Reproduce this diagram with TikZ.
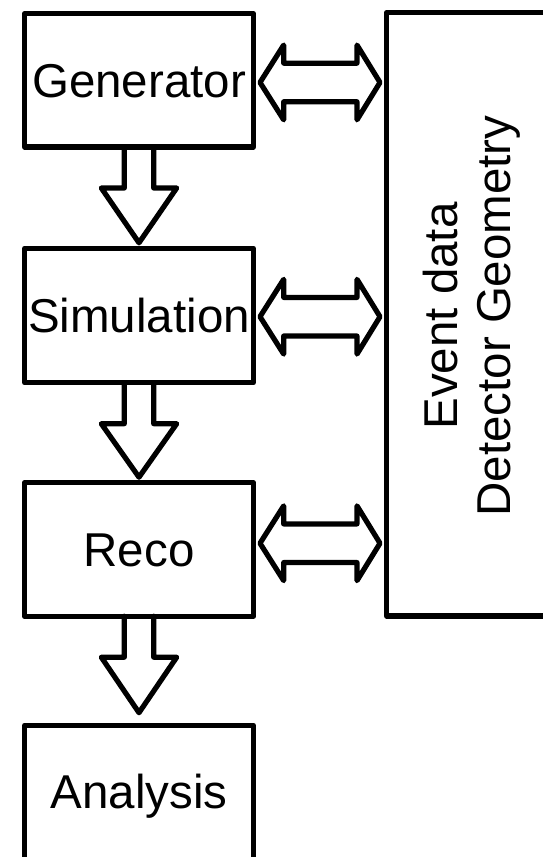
\documentclass[tikz,border=0pt]{standalone}
\usepackage{fontspec}
\setmainfont{Liberation Sans}
\usetikzlibrary{calc}
\begin{document}
\begin{tikzpicture}[x=1pt,y=-1pt,
  lw/.style={line width=5.2pt, line join=round, line cap=round},
  box/.style={draw, lw, minimum width=228.6pt, minimum height=133.5pt,
    inner sep=0pt, outer sep=0pt, text height=34.4pt, text depth=0pt,
    font=\fontsize{47.5}{53}\selectfont},
  fat/.style={draw, lw},
  lbl/.style={font=\fontsize{47.5}{53}\selectfont, inner sep=0pt}]
\useasboundingbox (0,0) rectangle (543,857);

\node[box] (gen) at (139,80.25) {Generator};
\node[box, minimum height=134.4pt] (sim) at (139,315.5) {Simulation};
\node[box] (reco) at (139,549.45) {Reco};
\node[box, minimum height=160pt, anchor=north] (ana) at (139,725.3) {};
\node[lbl, anchor=base] (anatext) at (139,808.3) {Analysis};

\node[draw, lw, minimum width=300pt, minimum height=603.3pt, inner sep=0pt,
  outer sep=0pt, anchor=north west] (geo) at (386.7,12.7) {};
\node[lbl, rotate=90, align=center] (geotext) at (472,316) {Event data\\Detector Geometry};

% downward block arrows
\foreach \a/\b/\g in {gen/sim/5.5, sim/reco/5.5, reco/ana/12.6}{
  \draw[fat] ($(\a.south)+(-14.7,0)$) -- ++(0,41) -- ++(-23,0)
    -- ($(\b.north)+(0,-\g)$) -- ($(\a.south)+(37.7,41)$) -- ++(-23,0)
    -- ($(\a.south)+(14.7,0)$);
}

% double block arrows
\foreach \a/\dy in {gen/2.2, sim/1.2, reco/-6.2}{
  \coordinate (L) at ($(\a.east)+(6.7,\dy)$);
  \coordinate (R) at ($(\a.east -| geo.west)+(-6.7,\dy)$);
  \draw[fat] (L) -- ++(23.7,-37.4) -- ++(0,18.1) -- ($(R)+(-23,-19.3)$)
    -- ++(0,-18.1) -- (R) -- ++(-23,37.4) -- ++(0,-18.1)
    -- ($(L)+(23.7,19.3)$) -- ++(0,18.1) -- cycle;
}
\end{tikzpicture}
\end{document}
